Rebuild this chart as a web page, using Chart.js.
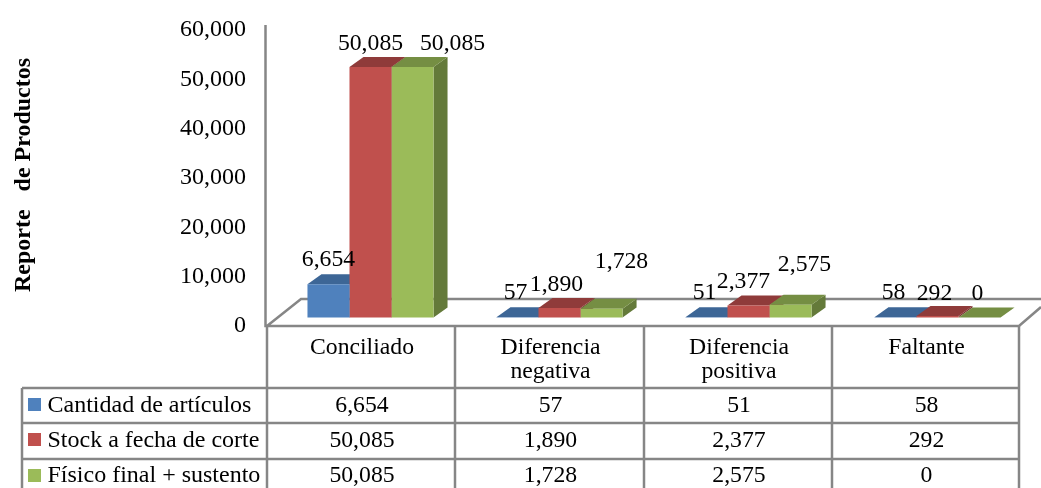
<!DOCTYPE html>
<html>
<head>
<meta charset="utf-8">
<title>Reporte de Productos</title>
<script src="https://cdn.jsdelivr.net/npm/chart.js@4"></script>
<style>
  html, body { margin: 0; padding: 0; background: #fff; overflow: hidden; }
  canvas { display: block; }
</style>
</head>
<body>
<canvas id="chart" width="1041" height="488"></canvas>
<script>
const categories = [['Conciliado'], ['Diferencia', 'negativa'], ['Diferencia', 'positiva'], ['Faltante']];
const seriesNames = ['Cantidad de artículos', 'Stock a fecha de corte', 'Físico final + sustento'];
const cantidad = [6654, 57, 51, 58];
const stock = [50085, 1890, 2377, 292];
const fisico = [50085, 1728, 2575, 0];
const tickValues = [0, 10000, 20000, 30000, 40000, 50000, 60000];

const FONT = '"Liberation Serif", "Times New Roman", serif';
const GRAY = '#868686';
const DEPTH_X = 14;
const DEPTH_Y = 10;

// front, top and side shades of each series
const shades = [
  { front: '#4F81BD', top: '#3D6696', side: '#33557D' },
  { front: '#C0504D', top: '#8F3B3A', side: '#7A3230' },
  { front: '#9BBB59', top: '#758E43', side: '#647A3A' }
];

// the labels were placed by hand in the original, so each has its own nudge from the bar top
const labelNudges = [
  [[0, -24], [-2, -24], [-2, -24], [-2, -24]],
  [[0, -23], [-3, -23], [-5, -24], [-3, -22]],
  [[40, -23], [20, -47], [14, -40], [-2, -24]]
];

const fmt = (v) => v.toLocaleString('en-US');

const depthPlugin = {
  id: 'depth3d',

  // walls and floor outline
  beforeDraw(chart) {
    const { ctx, chartArea: area } = chart;
    ctx.save();
    ctx.strokeStyle = GRAY;
    ctx.lineWidth = 2.5;
    ctx.beginPath();
    ctx.moveTo(area.left - 10.5, area.top);
    ctx.lineTo(area.left - 10.5, area.bottom + 1);
    ctx.lineTo(area.right - 13, area.bottom + 1);
    ctx.lineTo(area.right + 9, area.bottom - 18);
    ctx.moveTo(area.left - 9, area.bottom + 1);
    ctx.lineTo(area.left + 25, area.bottom - 26);
    ctx.lineTo(area.right + 9, area.bottom - 26);
    ctx.stroke();
    ctx.restore();
  },

  // tops and sides go under the front faces the library draws
  beforeDatasetsDraw(chart) {
    const { ctx } = chart;
    ctx.save();
    chart.data.datasets.forEach((ds, i) => {
      chart.getDatasetMeta(i).data.forEach((bar) => {
        const p = bar.getProps(['x', 'y', 'base', 'width'], true);
        const left = p.x - p.width / 2;
        const right = p.x + p.width / 2;
        ctx.fillStyle = shades[i].side;
        ctx.beginPath();
        ctx.moveTo(right, p.y);
        ctx.lineTo(right + DEPTH_X, p.y - DEPTH_Y);
        ctx.lineTo(right + DEPTH_X, p.base - DEPTH_Y);
        ctx.lineTo(right, p.base);
        ctx.closePath();
        ctx.fill();
        ctx.fillStyle = shades[i].top;
        ctx.beginPath();
        ctx.moveTo(left, p.y);
        ctx.lineTo(left + DEPTH_X, p.y - DEPTH_Y);
        ctx.lineTo(right + DEPTH_X, p.y - DEPTH_Y);
        ctx.lineTo(right, p.y);
        ctx.closePath();
        ctx.fill();
      });
    });
    ctx.restore();
  },

  afterDatasetsDraw(chart) {
    const { ctx } = chart;
    ctx.save();
    ctx.font = '23.7px ' + FONT;
    ctx.fillStyle = '#000';
    ctx.textAlign = 'center';
    ctx.textBaseline = 'middle';
    chart.data.datasets.forEach((ds, i) => {
      chart.getDatasetMeta(i).data.forEach((bar, j) => {
        const [dx, dy] = labelNudges[i][j];
        ctx.fillText(fmt(ds.data[j]), bar.x + dx, bar.y + dy);
      });
    });
    ctx.restore();
  },

  // data table below the floor
  afterDraw(chart) {
    const { ctx } = chart;
    const colEdges = [267, 455, 644, 832, 1019];
    const colCenter = (j) => (colEdges[j] + colEdges[j + 1]) / 2 + 1;
    const rows = [388, 423, 459];
    const rowText = [406, 441, 476];
    const keys = [398, 433, 469];
    const legendLeft = 22;

    ctx.save();
    ctx.strokeStyle = GRAY;
    ctx.lineWidth = 2.5;
    ctx.beginPath();
    colEdges.forEach((x) => {
      ctx.moveTo(x, 326);
      ctx.lineTo(x, 488);
    });
    ctx.moveTo(legendLeft, rows[0]);
    ctx.lineTo(legendLeft, 488);
    rows.forEach((y) => {
      ctx.moveTo(legendLeft, y);
      ctx.lineTo(colEdges[colEdges.length - 1], y);
    });
    ctx.stroke();

    ctx.font = '23.7px ' + FONT;
    ctx.fillStyle = '#000';
    ctx.textBaseline = 'middle';
    ctx.textAlign = 'center';
    categories.forEach((lines, j) => {
      lines.forEach((line, k) => ctx.fillText(line, colCenter(j), 348 + k * 23.5));
    });
    chart.data.datasets.forEach((ds, i) => {
      ds.data.forEach((v, j) => ctx.fillText(fmt(v), colCenter(j), rowText[i]));
    });
    ctx.textAlign = 'left';
    ctx.font = '24px ' + FONT;
    seriesNames.forEach((name, i) => {
      ctx.fillStyle = shades[i].front;
      ctx.fillRect(28, keys[i], 13, 13);
      ctx.fillStyle = '#000';
      ctx.fillText(name, 47.5, rowText[i]);
    });
    ctx.restore();
  }
};

new Chart(document.getElementById('chart'), {
  type: 'bar',
  data: {
    labels: categories,
    datasets: [cantidad, stock, fisico].map((values, i) => ({
      label: seriesNames[i],
      data: values,
      backgroundColor: shades[i].front,
      borderWidth: 0,
      categoryPercentage: 0.667,
      barPercentage: 1
    }))
  },
  options: {
    responsive: false,
    animation: false,
    layout: { padding: { top: 25, right: 9, bottom: 163, left: 0 } },
    plugins: { legend: { display: false }, tooltip: { enabled: false } },
    scales: {
      x: { display: false },
      // bars sit mid-depth on the floor, so their zero is above the front edge
      y: { display: false, min: -1500, max: 58500 },
      // tick labels run on their own slightly shorter range, as the original's do
      yTicks: {
        position: 'left',
        min: 203,
        max: 61014,
        afterBuildTicks: (scale) => {
          scale.ticks = tickValues.map((value) => ({ value }));
        },
        afterFit: (scale) => {
          scale.width = 276;
          scale.paddingTop = 0;
          scale.paddingBottom = 0;
        },
        grid: { display: false, drawTicks: false },
        border: { display: false },
        ticks: {
          color: '#000',
          padding: 30,
          font: { family: FONT, size: 24 },
          callback: (v) => fmt(v)
        },
        title: {
          display: true,
          text: 'Reporte   de Productos',
          color: '#000',
          font: { family: FONT, size: 24, weight: 'bold' },
          padding: { top: 9, bottom: 0 }
        }
      }
    }
  },
  plugins: [depthPlugin]
});
</script>
</body>
</html>
